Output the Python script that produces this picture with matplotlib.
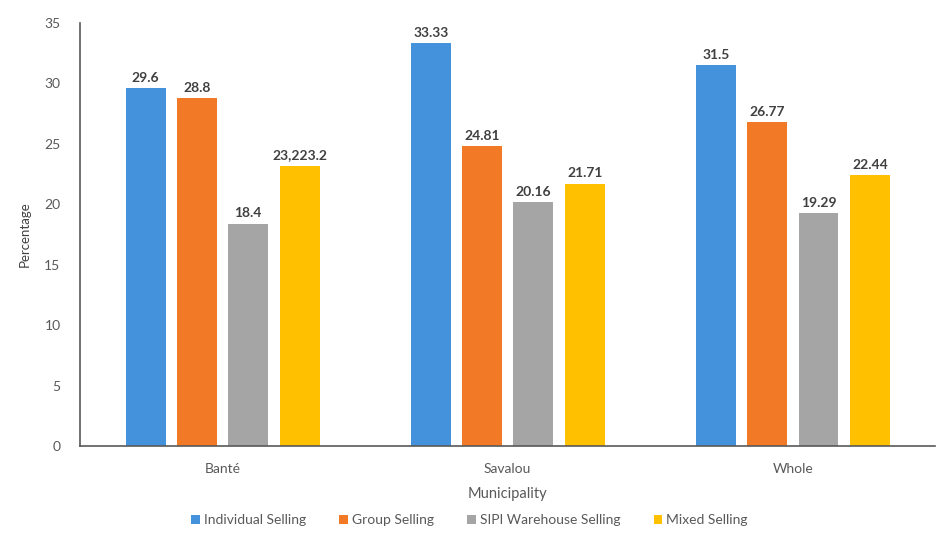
import matplotlib.pyplot as plt
import numpy as np

plt.rcParams["font.family"] = ["Lato", "DejaVu Sans"]

municipalities = ["Banté", "Savalou", "Whole"]
series_names = ["Individual Selling", "Group Selling", "SIPI Warehouse Selling", "Mixed Selling"]
individual = [29.6, 33.33, 31.5]
group = [28.8, 24.81, 26.77]
sipi = [18.4, 20.16, 19.29]
mixed = [23.2, 21.71, 22.44]
# labels as printed on the original chart (Banté mixed label is garbled there)
value_labels = [
    ["29.6", "33.33", "31.5"],
    ["28.8", "24.81", "26.77"],
    ["18.4", "20.16", "19.29"],
    ["23,223.2", "21.71", "22.44"],
]
y_ticks = [0, 5, 10, 15, 20, 25, 30, 35]

colors = ["#4592dc", "#f27a26", "#a5a5a5", "#ffc000"]
series = [individual, group, sipi, mixed]

fig = plt.figure(figsize=(9.39, 5.36), dpi=100)
ax = fig.add_axes([0.0852, 0.168, 0.911, 0.789])

x = np.arange(len(municipalities))
width = 0.14
pitch = 0.18
bars = []
for i, (vals, name, col) in enumerate(zip(series, series_names, colors)):
    pos = x + (i - 1.5) * pitch
    b = ax.bar(pos, vals, width=width, color=col, label=name)
    bars.append(b)
    for p, v, lab in zip(pos, vals, value_labels[i]):
        ax.text(p, v + 0.35, lab, ha="center", va="bottom", fontsize=10,
                fontweight="bold", color="#404040")

ax.set_xlim(-0.5, 2.5)
ax.set_ylim(0, 35)
ax.set_yticks(y_ticks)
ax.set_xticks(x)
ax.set_xticklabels(municipalities)
ax.tick_params(axis="both", length=0, labelsize=10, colors="#595959")
ax.tick_params(axis="x", pad=12)
ax.tick_params(axis="y", pad=14)

for s in ["top", "right"]:
    ax.spines[s].set_visible(False)
ax.spines["left"].set_color("#595959")
ax.spines["bottom"].set_color("#595959")
ax.spines["left"].set_linewidth(1.2)
ax.spines["bottom"].set_linewidth(1.2)

ax.set_xlabel("Municipality", fontsize=10.5, color="#595959", labelpad=9)
ax.set_ylabel("Percentage", fontsize=9.5, color="#404040", labelpad=2)
ax.yaxis.set_label_coords(-0.058, 0.5)

fig.legend(handles=bars, labels=series_names, loc="lower center", ncol=4,
           frameon=False, fontsize=10, labelcolor="#595959",
           bbox_to_anchor=(0.5, -0.005), handlelength=0.6, handleheight=0.6,
           columnspacing=2.4, handletextpad=0.3)

fig.savefig("out.png", dpi=100)
